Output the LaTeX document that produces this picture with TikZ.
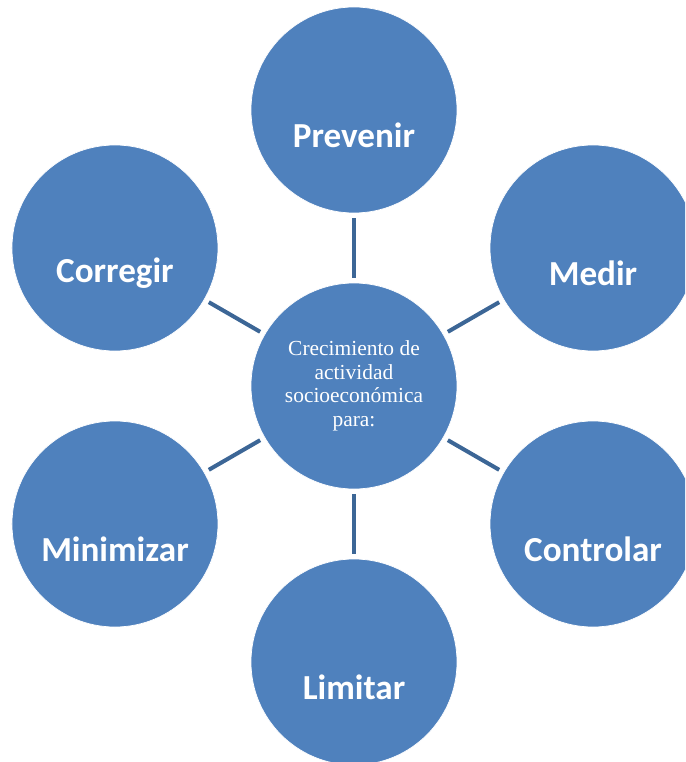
\documentclass[tikz,border=0pt]{standalone}
\usepackage{fontspec}
\setmainfont{Liberation Serif}
\newfontfamily\leaffont{Carlito}
\usepackage{xcolor}
\usetikzlibrary{positioning}
\definecolor{discblue}{HTML}{4F81BD}
\definecolor{spokeblue}{HTML}{3C6696}
\tikzset{
    cycle/.style={font=\small},
    hub/.style={circle, fill=discblue, draw=white, thin, minimum size=4.12cm, inner sep=0pt,
        text=white, align=center, font=\fontsize{12.2}{13.4}\selectfont},
    leaf/.style={circle, fill=discblue, draw=white, thin, minimum size=4.12cm, inner sep=0pt},
    % label sits a little below the centre of each outer disc
    leaftext/.style={text=white, font=\leaffont\bfseries\fontsize{20}{24}\selectfont, yshift=-0.5cm},
    spoke/.style={spokeblue, line width=2.3pt, shorten <=0.1cm, shorten >=0.1cm},
}
\begin{document}
\begin{tikzpicture}[cycle]
    \useasboundingbox (-7.08,-7.52) rectangle (6.62,7.72);
    \clip (-7.08,-7.52) rectangle (6.62,7.72);

    % centre
    \node[hub] (hub) at (0,0) {Crecimiento de\\actividad\\socioeconómica\\para:};

    % outer discs, one every 60 degrees
    \node[leaf] (prev) at (90:5.52)  {};
    \node[leaf] (med)  at (30:5.52)  {};
    \node[leaf] (ctrl) at (-30:5.52) {};
    \node[leaf] (lim)  at (-90:5.52) {};
    \node[leaf] (min)  at (210:5.52) {};
    \node[leaf] (corr) at (150:5.52) {};

    \node[leaftext] (prev-t) at (prev.center) {Prevenir};
    \node[leaftext] (med-t)  at (med.center)  {Medir};
    \node[leaftext] (ctrl-t) at (ctrl.center) {Controlar};
    \node[leaftext] (lim-t)  at (lim.center)  {Limitar};
    \node[leaftext] (min-t)  at (min.center)  {Minimizar};
    \node[leaftext] (corr-t) at (corr.center) {Corregir};

    % spokes
    \draw[spoke] (hub) -- (prev);
    \draw[spoke] (hub) -- (med);
    \draw[spoke] (hub) -- (ctrl);
    \draw[spoke] (hub) -- (lim);
    \draw[spoke] (hub) -- (min);
    \draw[spoke] (hub) -- (corr);
\end{tikzpicture}
\end{document}
